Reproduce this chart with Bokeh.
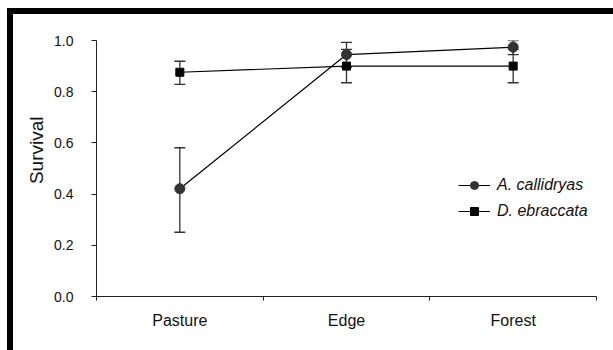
from bokeh.plotting import figure
from bokeh.models import Range1d, FixedTicker, Whisker, ColumnDataSource, Legend, LegendItem, Div, Title
from bokeh.layouts import row, column
from bokeh.embed import file_html
from bokeh.resources import INLINE

categories = ["Pasture", "Edge", "Forest"]
cat_pos = [0.5, 1.5, 2.5]

a_mean = [0.421, 0.945, 0.974]
a_lower = [0.251, 0.895, 0.945]
a_upper = [0.581, 0.993, 1.0]

d_mean = [0.876, 0.900, 0.900]
d_lower = [0.829, 0.835, 0.835]
d_upper = [0.919, 0.965, 0.965]

y_ticks = [0.0, 0.2, 0.4, 0.6, 0.8, 1.0]

FONT = "Liberation Sans"

p = figure(width=600, height=336, output_backend="svg", toolbar_location=None,
           x_range=Range1d(0, 3), y_range=Range1d(0, 1.0),
           min_border_left=83, min_border_top=26, min_border_bottom=54, min_border_right=17,
           margin=0)
p.outline_line_color = None
p.xgrid.visible = False
p.ygrid.visible = False

# axes
p.xaxis.ticker = FixedTicker(ticks=cat_pos, minor_ticks=[0, 1, 2, 3])
p.xaxis.major_label_overrides = {pos: lab for pos, lab in zip(cat_pos, categories)}
p.xaxis.major_tick_line_color = None
p.xaxis.minor_tick_in = 0
p.xaxis.minor_tick_out = 4
p.xaxis.minor_tick_line_color = "#222222"
p.xaxis.axis_line_color = "#222222"
p.xaxis.major_label_text_font = FONT
p.xaxis.major_label_text_font_size = "16px"
p.xaxis.major_label_text_color = "#111111"
p.xaxis.major_label_standoff = 9

p.yaxis.ticker = FixedTicker(ticks=y_ticks)
p.yaxis.major_label_overrides = {t: f"{t:.1f}" for t in y_ticks}
p.yaxis.minor_tick_line_color = None
p.yaxis.major_tick_in = 0
p.yaxis.major_tick_out = 5
p.yaxis.major_tick_line_color = "#222222"
p.yaxis.axis_line_color = "#222222"
p.yaxis.major_label_text_font = FONT
p.yaxis.major_label_text_font_size = "14px"
p.yaxis.major_label_text_color = "#111111"
p.yaxis.major_label_standoff = 18

ylabel = Title(text="Survival", align="right", offset=76, standoff=10,
               text_font=FONT, text_font_size="19px", text_font_style="normal",
               text_color="#111111")
p.add_layout(ylabel, "left")

src_a = ColumnDataSource(dict(x=cat_pos, y=a_mean, lo=a_lower, hi=a_upper))
src_d = ColumnDataSource(dict(x=cat_pos, y=d_mean, lo=d_lower, hi=d_upper))

for src in (src_d, src_a):
    w = Whisker(source=src, base="x", lower="lo", upper="hi", line_color="#333333", line_width=1.3)
    w.upper_head.size = 11
    w.lower_head.size = 11
    w.upper_head.line_color = "#333333"
    w.lower_head.line_color = "#333333"
    w.upper_head.line_width = 1.3
    w.lower_head.line_width = 1.3
    p.add_layout(w)

ld = p.line("x", "y", source=src_d, line_color="black", line_width=1.2)
sd = p.scatter("x", "y", source=src_d, marker="square", size=8, fill_color="black", line_color="black")
la = p.line("x", "y", source=src_a, line_color="black", line_width=1.2)
sa = p.scatter("x", "y", source=src_a, marker="circle", size=10, fill_color="#333333", line_color="#333333")

legend = Legend(items=[
    LegendItem(label="A. callidryas", renderers=[la, sa]),
    LegendItem(label="D. ebraccata", renderers=[ld, sd]),
], location=(362, 75))
legend.label_text_font = FONT
legend.label_text_font_size = "16px"
legend.label_text_font_style = "italic"
legend.label_text_color = "#111111"
legend.glyph_width = 32
legend.glyph_height = 20
legend.label_height = 20
legend.spacing = 6
legend.label_standoff = 7
legend.padding = 0
legend.margin = 0
legend.border_line_color = None
legend.background_fill_alpha = 0
p.add_layout(legend, "center")

top_bar = Div(text="", width=606, height=6, margin=(8, 0, 0, 7),
              styles={"background-color": "black"})
left_bar = Div(text="", width=6, height=336, margin=0,
               styles={"background-color": "black"})
layout = column(top_bar, row(left_bar, p, spacing=0, margin=(0, 0, 0, 7)), spacing=0, margin=0)

open("out.html", "w").write(file_html(layout, INLINE))
